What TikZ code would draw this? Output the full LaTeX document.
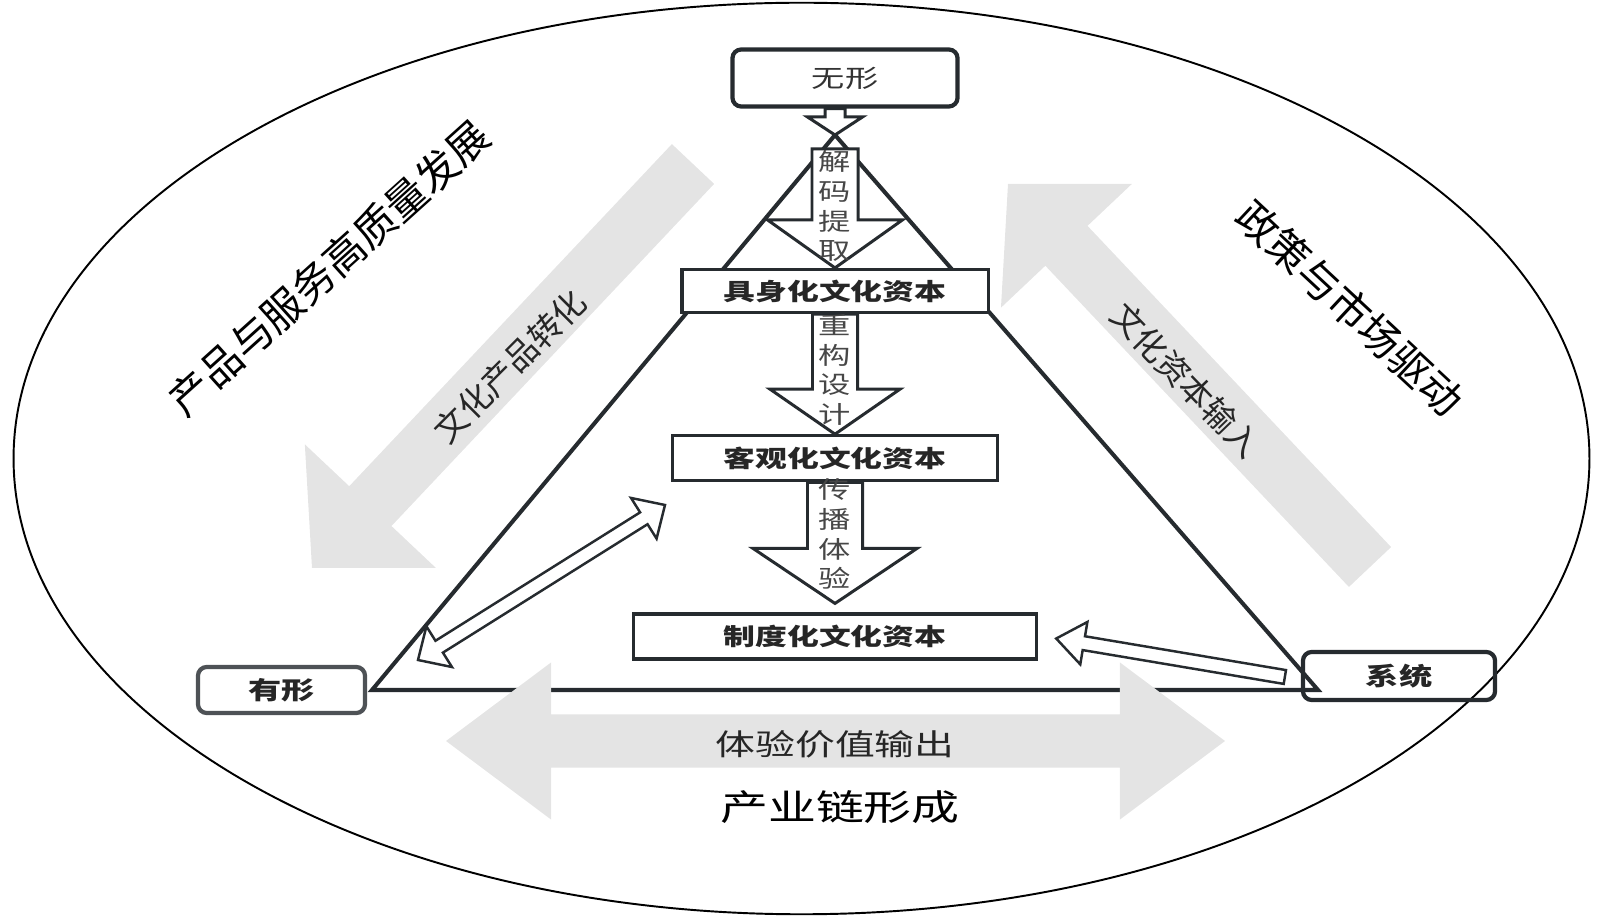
\documentclass[tikz,border=0pt]{standalone}
\usepackage{fontspec}
\newfontfamily\cjk{Noto Sans CJK SC}
\newfontfamily\cjkwide[FakeStretch=1.35]{Noto Sans CJK SC}
\usetikzlibrary{calc,positioning}

\definecolor{ink}{HTML}{262B2F}
\definecolor{softink}{HTML}{4E5256}
\definecolor{shade}{HTML}{E4E4E4}

\newcommand\blockarrow[6][]{%
  \draw[#1] let \p1=(#2), \p2=(#3), \n1={atan2(\y2-\y1,\x2-\x1)} in
    ($(\p1)+(\n1+90:#4)$) -- ($(\p2)+(\n1+180:#6)+(\n1+90:#4)$)
    -- ($(\p2)+(\n1+180:#6)+(\n1+90:#5)$) -- (\p2)
    -- ($(\p2)+(\n1+180:#6)+(\n1-90:#5)$) -- ($(\p2)+(\n1+180:#6)+(\n1-90:#4)$)
    -- ($(\p1)+(\n1-90:#4)$) -- cycle;}
\newcommand\twinarrow[6][]{%
  \draw[#1] let \p1=(#2), \p2=(#3), \n1={atan2(\y2-\y1,\x2-\x1)} in
    (\p1) -- ($(\p1)+(\n1:#6)+(\n1+90:#5)$) -- ($(\p1)+(\n1:#6)+(\n1+90:#4)$)
    -- ($(\p2)+(\n1+180:#6)+(\n1+90:#4)$) -- ($(\p2)+(\n1+180:#6)+(\n1+90:#5)$) -- (\p2)
    -- ($(\p2)+(\n1+180:#6)+(\n1-90:#5)$) -- ($(\p2)+(\n1+180:#6)+(\n1-90:#4)$)
    -- ($(\p1)+(\n1:#6)+(\n1-90:#4)$) -- ($(\p1)+(\n1:#6)+(\n1-90:#5)$) -- cycle;}

\begin{document}
\begin{tikzpicture}[
    x=0.01cm, y=-0.01cm,
    capbox/.style={draw=ink, fill=white, line width=0.9pt, minimum height=0.43cm, inner sep=0pt, text=black!85, font=\cjkwide\bfseries\fontsize{6.7}{8}\selectfont},
    endbox/.style={draw=ink, fill=white, rounded corners=2.5pt, line width=1.2pt, minimum height=0.47cm, inner sep=0pt, text=black!85, font=\cjkwide\bfseries\fontsize{7}{8}\selectfont},
    steptext/.style={align=center, inner sep=0pt, text=black!72, font=\cjkwide\fontsize{6.8}{8.5}\selectfont},
    hollow/.style={draw=ink, fill=white, line width=0.85pt},
    thin hollow/.style={draw=ink, fill=white, line width=0.7pt},
    band/.style={fill=shade, draw=none},
    frame/.style={draw=ink, line width=1.15pt},
    ringtext/.style={inner sep=0pt, font=\cjk\fontsize{11.8}{12}\selectfont},
    bandtext/.style={inner sep=0pt, text=black!85, font=\cjk\fontsize{9.4}{10}\selectfont}
  ]
    \useasboundingbox (0,0) rectangle (1600,919);
    \draw[line width=0.55pt] (801.5,458.5) ellipse [x radius=7.875cm, y radius=4.555cm];

    \coordinate (apex) at (835,135);
    \coordinate (leftfoot) at (372,690);
    \coordinate (rightfoot) at (1318,690);
    \draw[frame] (apex) -- (leftfoot) -- (rightfoot) -- cycle;

    \coordinate (product start) at (693,164);
    \coordinate (product end) at (312,568);
    \coordinate (input start) at (1370,567);
    \coordinate (input end) at (1008,184);
    \coordinate (output left) at (446,741);
    \coordinate (output right) at (1225,741);
    \blockarrow[band]{product start}{product end}{0.29cm}{0.9cm}{0.85cm}
    \blockarrow[band]{input start}{input end}{0.29cm}{0.9cm}{0.85cm}
    \twinarrow[band]{output left}{output right}{0.265cm}{0.785cm}{1.05cm}

    \node[endbox, minimum width=2.25cm, minimum height=0.57cm, text=black!80, font=\cjkwide\fontsize{7}{8}\selectfont] (intangible) at (845,78) {无形};
    \node[capbox, minimum width=3.06cm] (embodied) at (835,291) {具身化文化资本};
    \node[capbox, minimum width=3.24cm, minimum height=0.45cm, below=1.2cm of embodied] (objectified) {客观化文化资本};
    \node[capbox, minimum width=4.03cm, minimum height=0.45cm, below=1.3cm of objectified] (institutional) {制度化文化资本};
    \node[endbox, draw=softink, minimum width=1.67cm, minimum height=0.46cm] (tangible) at (281.5,690) {有形};
    \node[endbox, fill=none, minimum width=1.92cm, minimum height=0.48cm] (system) at (1399,676) {系统};

    \coordinate (twinlow) at (418,660);
    \coordinate (twinhigh) at (665,505);
    \blockarrow[hollow]{intangible.south -| apex}{apex}{0.1cm}{0.275cm}{0.18cm}
    \blockarrow[hollow]{$(apex)+(0,14)$}{embodied.north}{0.23cm}{0.675cm}{0.48cm}
    \blockarrow[hollow]{embodied.south}{objectified.north}{0.225cm}{0.65cm}{0.45cm}
    \blockarrow[hollow]{objectified.south}{$(institutional.north)+(0,-9)$}{0.275cm}{0.82cm}{0.55cm}
    \blockarrow[thin hollow]{$(system.west)+(-16,1)$}{$(institutional.east)+(18,2)$}{0.07cm}{0.215cm}{0.28cm}
    \twinarrow[thin hollow]{twinlow}{twinhigh}{0.07cm}{0.24cm}{0.25cm}

    \node[steptext] (decode) at (835,206) {解\\码\\提\\取};
    \node[steptext] (redesign) at (835,370) {重\\构\\设\\计};
    \node[steptext] (spread) at (835,534) {传\\播\\体\\验};

    \node[ringtext, rotate=42] (quality) at (329,268) {产品与服务高质量发展};
    \node[bandtext, rotate=45] (product) at (510,366) {文化产品转化};
    \node[bandtext, rotate=-46] (input) at (1186,380) {文化资本输入};
    \node[ringtext, rotate=-43] (policy) at (1350,308) {政策与市场驱动};
    \node[inner sep=0pt, text=black!85, font=\cjkwide\fontsize{8.4}{10}\selectfont] (output) at (835,744) {体验价值输出};
    \node[inner sep=0pt, font=\cjkwide\fontsize{10.1}{12}\selectfont] (chain) at (840,807) {产业链形成};
  \end{tikzpicture}
\end{document}
